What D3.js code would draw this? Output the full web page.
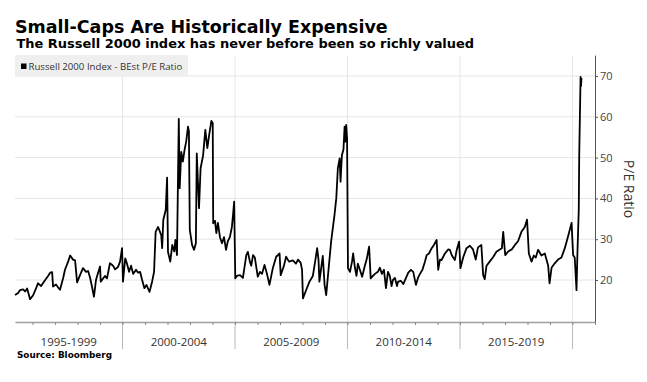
<!DOCTYPE html>
<html><head><meta charset="utf-8">
<script src="https://cdn.jsdelivr.net/npm/d3@7"></script>
<style>body{margin:0;background:#fff;} svg{display:block}</style>
</head><body>
<svg id="chart" width="647" height="382"></svg>
<script>
const titleText = "Small-Caps Are Historically Expensive";
const subtitleText = "The Russell 2000 index has never before been so richly valued";
const legendLabel = "Russell 2000 Index - BEst P/E Ratio";
const yAxisTitle = "P/E Ratio";
const sourceText = "Source: Bloomberg";
const periodStarts = [1995, 2000, 2005, 2010, 2015, 2020];
const periodLabels = ["1995-1999", "2000-2004", "2005-2009", "2010-2014", "2015-2019", ""];
const yTicks = [20, 30, 40, 50, 60, 70];
const yDomain = [10, 75];
const xDomainYears = [1995.22, 2021.0];

// Dates as decimal years, P/E values
const dateYears = [
1995.22,1995.36,1995.44,1995.58,1995.67,1995.76,1995.89,
1996.02,1996.16,1996.24,1996.38,1996.56,1996.69,1996.78,1996.87,1996.91,
1997.04,1997.13,1997.22,1997.36,1997.44,1997.58,1997.67,1997.76,1997.80,1997.89,1997.98,
1998.11,1998.24,1998.38,1998.47,1998.56,1998.64,1998.73,1998.82,1998.87,
1999.00,1999.03,1999.22,1999.31,1999.44,1999.58,1999.67,1999.80,1999.89,1999.98,
2000.02,2000.12,2000.20,2000.29,2000.38,2000.47,2000.60,2000.69,2000.78,2000.87,2000.97,
2001.06,2001.20,2001.31,2001.40,2001.47,2001.58,2001.72,2001.76,2001.81,2001.92,2001.98,
2002.02,2002.12,2002.21,2002.30,2002.35,2002.42,2002.50,2002.54,2002.61,2002.68,2002.76,2002.83,2002.91,2002.95,
2002.99,2003.09,2003.18,2003.26,2003.30,2003.36,2003.40,2003.47,2003.58,2003.68,2003.77,2003.85,2003.95,2004.01,
2004.03,2004.11,2004.17,2004.24,2004.33,2004.42,2004.51,2004.60,2004.68,2004.77,2004.86,2004.91,2004.96,
2005.01,2005.08,2005.22,2005.35,2005.50,2005.57,2005.66,2005.72,2005.80,2005.88,
2006.01,2006.11,2006.20,2006.31,2006.42,2006.53,2006.68,2006.83,2006.98,
2007.03,2007.17,2007.27,2007.40,2007.57,2007.71,2007.80,2007.92,2007.98,
2008.02,2008.16,2008.31,2008.46,2008.56,2008.65,2008.71,2008.75,2008.83,2008.90,2008.98,
2009.05,2009.13,2009.27,2009.42,2009.50,2009.57,2009.65,2009.69,2009.75,2009.82,2009.87,2009.90,2009.94,2009.98,
2010.02,2010.11,2010.20,2010.25,2010.33,2010.40,2010.46,2010.55,2010.65,2010.77,2010.85,2010.96,
2011.03,2011.13,2011.22,2011.35,2011.44,2011.53,2011.62,2011.66,2011.71,2011.80,2011.88,2011.96,
2012.02,2012.11,2012.20,2012.25,2012.37,2012.48,2012.60,2012.70,2012.82,2012.92,
2013.04,2013.13,2013.22,2013.33,2013.44,2013.52,2013.62,2013.74,2013.84,2013.96,
2014.03,2014.11,2014.18,2014.33,2014.48,2014.55,2014.64,2014.77,2014.86,2014.96,
2015.02,2015.14,2015.29,2015.44,2015.58,2015.70,2015.80,2015.95,
2016.03,2016.10,2016.18,2016.32,2016.46,2016.62,2016.77,2016.86,2016.92,
2017.01,2017.14,2017.30,2017.44,2017.58,2017.73,2017.88,2017.98,
2018.06,2018.18,2018.28,2018.37,2018.47,2018.62,2018.77,2018.92,2018.98,
2019.07,2019.21,2019.36,2019.51,2019.66,2019.80,2019.96,
2020.03,2020.10,2020.18,2020.22,2020.28,2020.30,2020.33,2020.36,2020.38,2020.40
];
const peRatio = [
16.3,16.8,17.5,17.7,17.2,17.9,15.3,
16.2,18.0,19.2,18.5,20.0,21.0,21.8,21.9,18.4,
18.9,18.2,17.6,20.5,22.5,24.5,26.0,25.3,25.0,24.8,19.4,
21.2,22.9,22.0,22.2,20.5,18.4,15.9,20.0,21.0,
23.3,19.6,21.0,20.4,24.1,23.5,22.6,23.2,24.5,27.8,
19.6,25.3,24.0,22.0,23.5,21.5,22.5,21.8,22.0,20.0,18.0,
18.8,17.1,19.5,22.0,31.8,33.0,31.0,27.8,34.7,37.2,45.1,
26.9,24.5,28.6,27.0,29.8,26.1,59.5,42.5,51.4,49.0,52.0,53.9,57.6,56.5,
32.3,28.6,27.4,29.0,51.0,42.9,37.6,47.4,50.5,56.8,52.3,55.5,59.0,58.5,
33.9,34.5,31.5,34.0,30.5,29.0,30.5,27.4,29.5,30.5,33.0,35.9,39.2,
20.4,21.0,21.2,20.5,26.1,26.9,24.5,23.5,26.1,25.5,
20.8,22.0,21.5,23.7,21.5,18.8,22.9,25.7,26.5,
21.2,23.4,25.7,24.5,24.8,24.0,25.0,24.2,22.5,
15.5,17.5,19.6,21.0,24.5,27.8,25.0,19.6,23.0,25.9,18.8,
16.3,21.0,29.4,35.9,40.0,47.4,49.8,44.1,50.6,52.0,57.6,53.9,58.0,54.7,
22.9,22.0,24.5,26.5,23.0,21.0,24.0,22.5,20.8,23.5,25.0,28.2,
20.4,21.0,21.5,22.0,23.0,21.5,22.5,20.5,18.0,22.0,21.0,18.5,
20.0,20.5,18.5,19.6,19.8,19.0,20.5,21.8,22.5,22.0,
18.8,20.5,21.5,22.5,24.5,26.1,26.5,27.8,28.6,29.8,
22.5,25.0,24.9,26.5,27.5,27.4,26.0,24.9,27.5,29.4,
22.9,25.5,27.8,28.4,27.5,25.0,28.0,28.6,
21.2,20.2,23.5,24.5,25.5,26.9,27.5,27.8,31.8,
26.1,27.0,27.5,28.6,29.5,31.8,33.0,34.8,
26.5,24.5,26.0,25.5,27.4,26.0,26.5,23.5,19.2,
23.0,24.1,25.0,25.5,27.8,30.6,34.0,
26.1,25.5,17.5,26.5,37.2,50.6,60.0,69.8,67.5,69.5
];

function decToDate(y) {
  const yr = Math.floor(y);
  const s = new Date(yr, 0, 1).getTime(), e = new Date(yr + 1, 0, 1).getTime();
  return new Date(s + (y - yr) * (e - s));
}
const data = dateYears.map((t, i) => ({ date: decToDate(t), value: peRatio[i] }));

const svg = d3.select("#chart");
const plotLeft = 15, plotRight = 595, plotTop = 55.6, plotBottom = 320.8, axisY = 322;

const x = d3.scaleTime().domain(xDomainYears.map(decToDate)).range([plotLeft, plotRight]);
const y = d3.scaleLinear().domain(yDomain).range([plotBottom, plotTop]);

function fitWidth(sel, w) {
  const cur = sel.node().getComputedTextLength();
  const fs = parseFloat(sel.attr("font-size"));
  sel.attr("font-size", fs * w / cur);
}

// Title & subtitle
const t1 = svg.append("text").attr("x", 15).attr("y", 32.5)
  .attr("font-family", "DejaVu Sans").attr("font-weight", "bold").attr("font-size", 18)
  .attr("fill", "#000").text(titleText);
fitWidth(t1, 373);
const t2 = svg.append("text").attr("x", 16.5).attr("y", 48)
  .attr("font-family", "DejaVu Sans").attr("font-weight", "bold").attr("font-size", 12)
  .attr("fill", "#000").text(subtitleText);
fitWidth(t2, 458);

// Horizontal gridlines
svg.append("g").selectAll("line").data(yTicks).join("line")
  .attr("x1", plotLeft).attr("x2", plotRight)
  .attr("y1", d => y(d)).attr("y2", d => y(d))
  .attr("stroke", "#e6e6e6").attr("stroke-width", 1);

// Vertical gridlines at period boundaries
const bounds = periodStarts.map(decToDate).filter(d => x(d) > plotLeft && x(d) < plotRight);
svg.append("g").selectAll("line").data(bounds).join("line")
  .attr("x1", d => x(d)).attr("x2", d => x(d))
  .attr("y1", plotTop).attr("y2", axisY)
  .attr("stroke", "#e6e6e6").attr("stroke-width", 1);
svg.append("g").selectAll("line").data(bounds).join("line")
  .attr("x1", d => x(d)).attr("x2", d => x(d))
  .attr("y1", axisY).attr("y2", 349)
  .attr("stroke", "#b8b8b8").attr("stroke-width", 1);

// Legend
svg.append("rect").attr("x", 15).attr("y", 55).attr("width", 173).attr("height", 21).attr("fill", "#efefef");
svg.append("rect").attr("x", 21).attr("y", 63.5).attr("width", 5.5).attr("height", 5.5).attr("fill", "#000");
const lt = svg.append("text").attr("x", 28.5).attr("y", 69.5)
  .attr("font-family", "Open Sans").attr("font-size", 10).attr("fill", "#333").text(legendLabel);
fitWidth(lt, 154);

// Line
const line = d3.line().x(d => x(d.date)).y(d => y(d.value));
svg.append("path").datum(data).attr("d", line)
  .attr("fill", "none").attr("stroke", "#000").attr("stroke-width", 1.8)
  .attr("stroke-linejoin", "round");

// X axis (year ticks)
const xAxis = d3.axisBottom(x).ticks(d3.timeYear.every(1)).tickSize(3).tickSizeOuter(0).tickFormat("");
const gx = svg.append("g").attr("transform", `translate(0,${axisY})`).call(xAxis);
gx.select(".domain").attr("stroke", "#a0a0a0").attr("stroke-width", 1.6);
gx.selectAll(".tick line").attr("stroke", "#888").attr("stroke-width", 1);

// Period labels
svg.append("g").selectAll("text").data(periodStarts.map((s, i) => ({ s, label: periodLabels[i] })).filter(d => d.label))
  .join("text")
  .attr("x", d => (Math.max(x(decToDate(d.s)), plotLeft) + Math.min(x(decToDate(d.s + 5)), plotRight)) / 2)
  .attr("y", 346)
  .attr("text-anchor", "middle")
  .attr("font-family", "Open Sans").attr("font-size", 11.5).attr("fill", "#333")
  .text(d => d.label);

// Right Y axis
const yAxis = d3.axisRight(y).tickValues(yTicks).tickSize(3).tickPadding(2).tickSizeOuter(0);
const gy = svg.append("g").attr("transform", `translate(${plotRight},0)`).call(yAxis);
gy.select(".domain").attr("stroke", "#555").attr("stroke-width", 1)
  .attr("d", `M0.5,${plotTop}V${axisY}`);
gy.selectAll(".tick line").attr("stroke", "#555");
gy.selectAll(".tick text").attr("font-family", "Open Sans").attr("font-size", 11).attr("fill", "#444");

// Y axis title
svg.append("text").attr("transform", "translate(623.5,189) rotate(90)")
  .attr("text-anchor", "middle")
  .attr("font-family", "Open Sans").attr("font-size", 14).attr("fill", "#333")
  .text(yAxisTitle);

// Source
const st = svg.append("text").attr("x", 17).attr("y", 357.5)
  .attr("font-family", "DejaVu Sans").attr("font-weight", "bold").attr("font-size", 9)
  .attr("fill", "#000").text(sourceText);
fitWidth(st, 95);
</script>
</body></html>
